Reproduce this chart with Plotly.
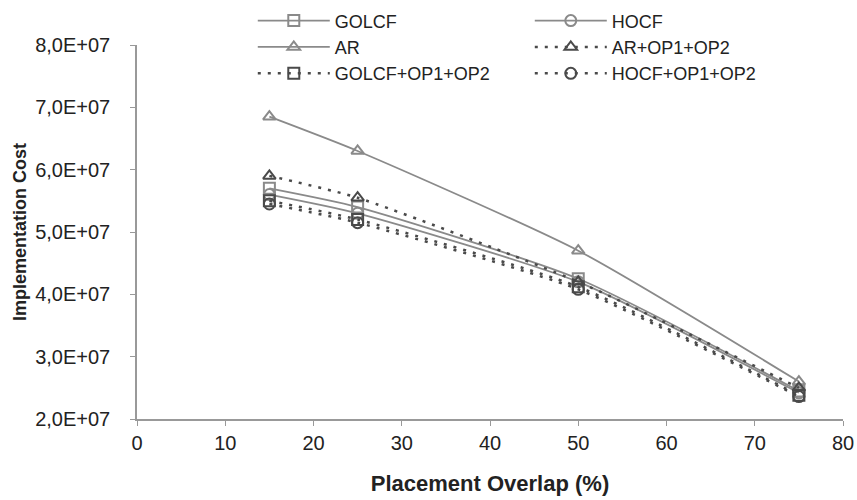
import plotly.graph_objects as go

# Placement overlap (%) and implementation cost per method
overlap = [15, 25, 50, 75]

golcf = [5.70e7, 5.40e7, 4.25e7, 2.45e7]
hocf = [5.60e7, 5.30e7, 4.20e7, 2.42e7]
ar = [6.85e7, 6.30e7, 4.70e7, 2.60e7]
ar_op = [5.90e7, 5.55e7, 4.20e7, 2.50e7]
golcf_op = [5.50e7, 5.20e7, 4.12e7, 2.38e7]
hocf_op = [5.45e7, 5.15e7, 4.08e7, 2.36e7]

y_ticks = [2e7, 3e7, 4e7, 5e7, 6e7, 7e7, 8e7]
y_tick_text = ["2,0E+07", "3,0E+07", "4,0E+07", "5,0E+07", "6,0E+07", "7,0E+07", "8,0E+07"]
x_ticks = [0, 10, 20, 30, 40, 50, 60, 70, 80]

solid_col = "#8a8a8a"
dot_col = "#4a4a4a"

series = [
    ("GOLCF", golcf, "square-open", solid_col, "solid", 1.8),
    ("HOCF", hocf, "circle-open", solid_col, "solid", 1.8),
    ("AR", ar, "triangle-up-open", solid_col, "solid", 1.8),
    ("AR+OP1+OP2", ar_op, "triangle-up-open", dot_col, "3px,7px", 2.5),
    ("GOLCF+OP1+OP2", golcf_op, "square-open", dot_col, "3px,7px", 2.5),
    ("HOCF+OP1+OP2", hocf_op, "circle-open", dot_col, "3px,7px", 2.5),
]

fig = go.Figure()
for name, vals, sym, col, dash, w in series:
    fig.add_trace(go.Scatter(
        x=overlap, y=vals, name=name, mode="lines+markers",
        line=dict(color=col, width=w, dash=dash, shape="spline", smoothing=0.6),
        marker=dict(symbol=sym, size=11, color=col, line=dict(color=col, width=2)),
    ))

fig.update_layout(
    width=857, height=500,
    margin=dict(l=137, r=14, t=45, b=81, autoexpand=False),
    paper_bgcolor="white", plot_bgcolor="white",
    font=dict(family="Liberation Sans, Arial, sans-serif", size=20, color="#222"),
    showlegend=True,
    legend=dict(
        orientation="h", x=0.164, y=1.114, xanchor="left", yanchor="top",
        entrywidth=190, entrywidthmode="pixels",
        font=dict(size=18, color="#222"), bgcolor="rgba(255,255,255,0)",
        tracegroupgap=0, itemwidth=72,
    ),
    xaxis=dict(
        range=[0, 80], tickvals=x_ticks, showgrid=False, zeroline=False,
        showline=True, linecolor="#999", linewidth=1.5,
        ticks="outside", ticklen=5, tickcolor="#999",
        tickfont=dict(size=20), automargin=False,
        title=dict(text="<b>Placement Overlap (%)</b>", standoff=23,
                   font=dict(size=22, color="#222")),
    ),
    yaxis=dict(
        range=[2e7, 8e7], tickvals=y_ticks, ticktext=y_tick_text,
        showgrid=False, zeroline=False,
        showline=True, linecolor="#999", linewidth=1.5,
        ticks="outside", ticklen=5, tickcolor="#999",
        tickfont=dict(size=20), ticklabelstandoff=16, automargin=False,
        title=dict(text="<b>Implementation Cost</b>", standoff=4,
                   font=dict(size=18, color="#222")),
    ),
)

fig.write_html("out.html")
